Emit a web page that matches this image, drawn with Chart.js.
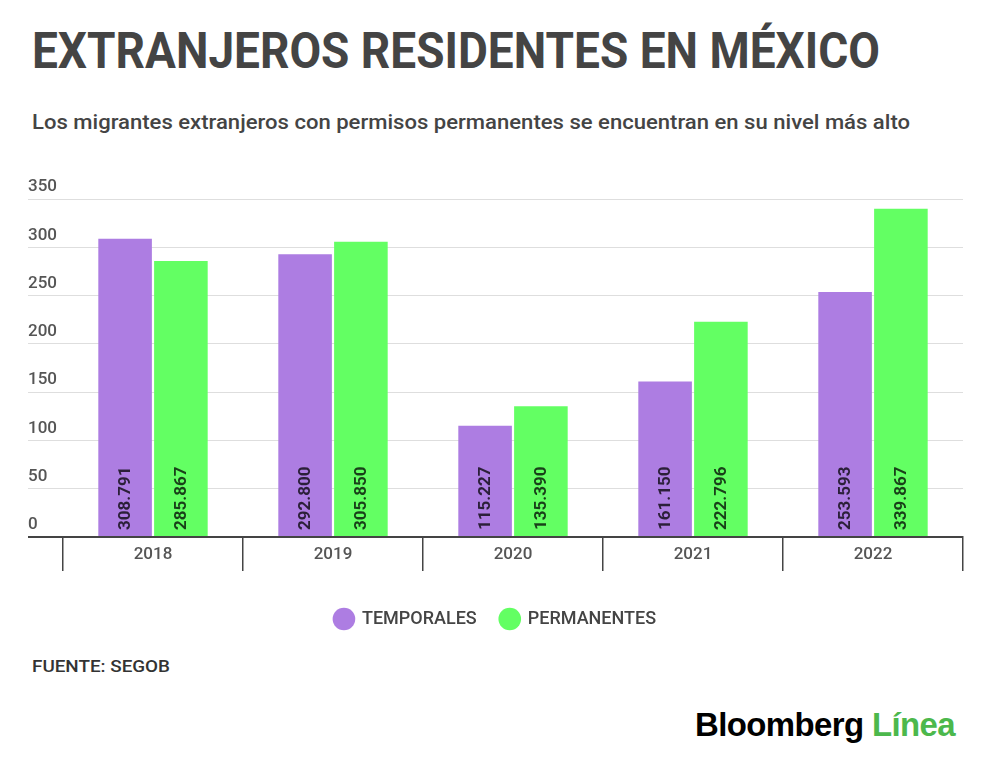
<!DOCTYPE html>
<html>
<head>
<meta charset="utf-8">
<script src="https://cdn.jsdelivr.net/npm/chart.js@4/dist/chart.umd.min.js"></script>
<style>
  html, body { margin: 0; padding: 0; background: #fff; }
  body { width: 1000px; height: 772px; position: relative; overflow: hidden; font-family: Roboto, "Noto Sans", sans-serif; }
  .txt { position: absolute; white-space: nowrap; transform-origin: 0 0; }
  #title { left: 32px; top: 22px; font-size: 50px; font-weight: bold; color: #444; }
  #subtitle { left: 32px; top: 110px; font-size: 21px; font-weight: 500; color: #444; }
  #source { left: 32px; top: 657px; font-size: 16px; font-weight: 500; color: #333; }
  #logo { left: 695px; top: 706px; font-family: "Liberation Sans", Arial, sans-serif; font-size: 33px; font-weight: bold; letter-spacing: -0.6px; }
  #logo .l { color: #4cb84c; }
  #wrap { position: absolute; left: 0; top: 150px; width: 1000px; height: 488px; }
</style>
</head>
<body>
<div id="title" class="txt">EXTRANJEROS RESIDENTES EN MÉXICO</div>
<div id="subtitle" class="txt">Los migrantes extranjeros con permisos permanentes se encuentran en su nivel más alto</div>
<div id="wrap"><canvas id="chart"></canvas></div>
<div id="source" class="txt">FUENTE: SEGOB</div>
<div id="logo" class="txt"><span>Bloomberg</span> <span class="l">Línea</span></div>

<script>
// values in thousands of people
const years = ["2018", "2019", "2020", "2021", "2022"];
const temporales = [308.791, 292.800, 115.227, 161.150, 253.593];
const permanentes = [285.867, 305.850, 135.390, 222.796, 339.867];
const yTicks = [0, 50, 100, 150, 200, 250, 300, 350];

// stretch the html texts to the width they have in the picture
function fitWidth(id, w) {
    const el = document.getElementById(id);
    const real = el.getBoundingClientRect().width;
    el.style.transform = "scaleX(" + (w / real) + ")";
}
fitWidth("title", 848);
fitWidth("subtitle", 878);
fitWidth("source", 138);
fitWidth("logo", 260);

// numbers written at the foot of each bar, turned upright
const barLabels = {
    id: "barLabels",
    afterDatasetsDraw(chart) {
        const ctx = chart.ctx;
        ctx.save();
        ctx.font = "bold 17px Roboto";
        ctx.fillStyle = "rgba(0,0,0,0.75)";
        ctx.textAlign = "left";
        ctx.textBaseline = "middle";
        chart.data.datasets.forEach((ds, i) => {
            chart.getDatasetMeta(i).data.forEach((bar, j) => {
                ctx.save();
                ctx.translate(bar.x + 1, bar.base - 6);
                ctx.rotate(-Math.PI / 2);
                ctx.fillText(ds.data[j].toFixed(3), 0, 0);
                ctx.restore();
            });
        });
        ctx.restore();
    }
};

new Chart("chart", {
    type: "bar",
    data: {
        labels: years,
        datasets: [
            { label: "TEMPORALES", data: temporales, backgroundColor: "#ad7de2" },
            { label: "PERMANENTES", data: permanentes, backgroundColor: "#63ff63" }
        ]
    },
    options: {
        responsive: true,
        maintainAspectRatio: false,
        animation: false,
        events: [],
        categoryPercentage: 0.62,
        barPercentage: 0.96,
        layout: { padding: { left: 28, right: 37, top: 49, bottom: 0 } },
        plugins: {
            tooltip: { enabled: false },
            legend: {
                position: "bottom",
                labels: {
                    usePointStyle: true,
                    pointStyle: "circle",
                    boxHeight: 16,
                    color: "#444",
                    font: { family: "Roboto", size: 18, weight: "500" },
                    padding: 24
                }
            }
        },
        scales: {
            x: {
                afterFit(scale) { scale.height = 49; },
                grid: {
                    offset: true,
                    drawOnChartArea: false,
                    tickLength: 34,
                    color: "#444",
                    lineWidth: 1.5
                },
                border: { display: true, color: "#444", width: 2 },
                ticks: {
                    color: "#555",
                    font: { family: "Roboto", size: 17, weight: "500" },
                    padding: -26
                }
            },
            y: {
                min: 0,
                max: 350,
                afterFit(scale) { scale.width = 35; },
                afterBuildTicks(scale) { scale.ticks = yTicks.map(v => ({ value: v })); },
                border: { display: false },
                grid: {
                    drawTicks: true,
                    tickLength: 35,
                    color: ctx => ctx.tick && ctx.tick.value === 0 ? "#444" : "#dedede",
                    lineWidth: ctx => ctx.tick && ctx.tick.value === 0 ? 2 : 1
                },
                ticks: {
                    crossAlign: "far",
                    padding: 0,
                    labelOffset: -12,
                    color: "#555",
                    font: { family: "Roboto", size: 17, weight: "500" }
                }
            }
        }
    },
    plugins: [barLabels]
});
</script>
</body>
</html>
